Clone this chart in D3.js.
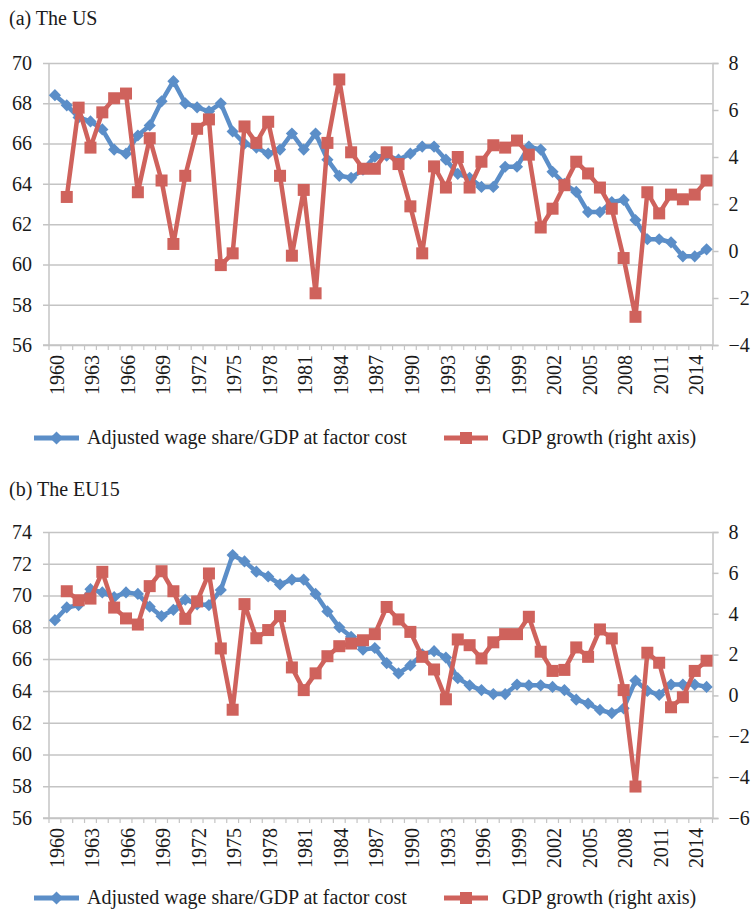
<!DOCTYPE html>
<html>
<head>
<meta charset="utf-8">
<script src="https://cdn.jsdelivr.net/npm/d3@7"></script>
<style>
  body { margin: 0; background: #fff; }
</style>
</head>
<body>
<div id="chart"></div>
<script>
//set the width and height of the svg
var width = 752;
var height = 914;

//font used everywhere
var FONT = "'Liberation Serif', 'DejaVu Serif', 'Times New Roman', serif";

//categories: one per year
var years = d3.range(1960, 2016);

//(a) US series
var usWage = [68.4, 67.9, 67.3, 67.1, 66.7, 65.7, 65.5, 66.4, 66.9, 68.1,
              69.1, 68.0, 67.8, 67.6, 68.0, 66.6, 66.0, 65.8, 65.5, 65.7,
              66.5, 65.7, 66.5, 65.2, 64.4, 64.3, 64.7, 65.35, 65.4, 65.2,
              65.5, 65.85, 65.85, 65.2, 64.5, 64.3, 63.85, 63.85, 64.85, 64.85,
              65.85, 65.7, 64.6, 64.0, 63.6, 62.6, 62.6, 63.1, 63.2, 62.2,
              61.25, 61.25, 61.1, 60.4, 60.4, 60.75];
var usGrowth = [null, 2.3, 6.1, 4.4, 5.9, 6.5, 6.7, 2.5, 4.8, 3.0,
                0.3, 3.2, 5.2, 5.6, -0.6, -0.1, 5.3, 4.6, 5.5, 3.2,
                -0.2, 2.6, -1.8, 4.6, 7.3, 4.2, 3.5, 3.5, 4.2, 3.7,
                1.9, -0.1, 3.6, 2.7, 4.0, 2.7, 3.8, 4.5, 4.4, 4.7,
                4.1, 1.0, 1.8, 2.8, 3.8, 3.3, 2.7, 1.8, -0.3, -2.8,
                2.5, 1.6, 2.4, 2.2, 2.4, 3.0];

//(b) EU15 series
var euWage = [68.45, 69.25, 69.4, 70.4, 70.2, 69.9, 70.2, 70.1, 69.3, 68.7,
              69.1, 69.75, 69.45, 69.4, 70.35, 72.55, 72.15, 71.5, 71.2, 70.7,
              71.0, 71.0, 70.1, 69.0, 68.0, 67.4, 66.6, 66.7, 65.75, 65.1,
              65.6, 66.3, 66.5, 66.1, 64.8, 64.35, 64.05, 63.8, 63.8, 64.4,
              64.35, 64.35, 64.25, 64.05, 63.45, 63.2, 62.8, 62.6, 62.9, 64.65,
              64.0, 63.75, 64.4, 64.4, 64.4, 64.25];
var euGrowth = [null, 5.1, 4.66, 4.74, 6.05, 4.3, 3.77, 3.47, 5.35, 6.08,
                5.1, 3.75, 4.6, 5.97, 2.3, -0.7, 4.47, 2.8, 3.2, 3.88,
                1.37, 0.26, 1.08, 1.92, 2.41, 2.54, 2.7, 3.0, 4.33, 3.72,
                3.11, 1.89, 1.27, -0.19, 2.74, 2.46, 1.81, 2.6, 3.0, 3.0,
                3.85, 2.14, 1.2, 1.25, 2.35, 1.89, 3.23, 2.79, 0.26, -4.46,
                2.09, 1.6, -0.58, -0.09, 1.2, 1.7];

//axis ticks
var usLeftTicks = [56, 58, 60, 62, 64, 66, 68, 70];
var usRightTicks = [-4, -2, 0, 2, 4, 6, 8];
var euLeftTicks = [56, 58, 60, 62, 64, 66, 68, 70, 72, 74];
var euRightTicks = [-6, -4, -2, 0, 2, 4, 6, 8];

//legend labels
var legendLabels = ["Adjusted wage share/GDP at factor cost", "GDP growth (right axis)"];

var BLUE = "#5b8ec8";
var RED = "#cf625c";
var GRID = "#c4c4c4";
var INK = "#1a1a1a";

var svg = d3.select("#chart")
            .append("svg")
            .attr("width", width)
            .attr("height", height)
            .style("font-family", FONT);

//x scale shared by both panels (category axis)
var xScale = d3.scaleBand()
               .domain(years)
               .range([49, 712.5])
               .padding(0);

function xMid(year) { return xScale(year) + xScale.bandwidth() / 2; }

//apply the serif font to a text selection
function serif(sel) {
  sel.attr("font-family", null)
     .style("font-family", FONT)
     .style("font-size", "20px")
     .attr("fill", INK);
}

function drawPanel(opts)
{
  var g = svg.append("g");

  //title
  g.append("text")
   .text(opts.title)
   .attr("x", 9)
   .attr("y", opts.titleY)
   .call(serif);

  var yLeft = d3.scaleLinear()
                .domain([opts.leftTicks[0], opts.leftTicks[opts.leftTicks.length - 1]])
                .range([opts.bottom, opts.top]);
  var yRight = d3.scaleLinear()
                 .domain([opts.rightTicks[0], opts.rightTicks[opts.rightTicks.length - 1]])
                 .range([opts.bottom, opts.top]);

  //horizontal gridlines + left axis (outer ticks)
  g.append("g")
   .attr("transform", "translate(49, 0)")
   .call(d3.axisLeft(yLeft)
           .tickValues(opts.leftTicks)
           .tickSizeInner(-(712.5 - 49))
           .tickSizeOuter(0)
           .tickPadding(17)
           .tickFormat(d3.format("d")))
   .call(function(ax) {
     ax.attr("font-family", null);
     ax.select(".domain").remove();
     ax.selectAll("line").attr("stroke", GRID).attr("stroke-width", 1.5)
       .attr("x1", -6);
     ax.selectAll("text").call(serif);
   });

  //left axis line
  g.append("line")
   .attr("x1", 49).attr("x2", 49)
   .attr("y1", opts.top).attr("y2", opts.bottom)
   .attr("stroke", GRID).attr("stroke-width", 1.5);

  //right axis
  g.append("g")
   .attr("transform", "translate(712.5, 0)")
   .call(d3.axisRight(yRight)
           .tickValues(opts.rightTicks)
           .tickSize(6)
           .tickPadding(10)
           .tickFormat(function(d) { return d < 0 ? "\u2212" + Math.abs(d) : d; }))
   .call(function(ax) {
     ax.attr("font-family", null);
     ax.selectAll("path, line").attr("stroke", GRID).attr("stroke-width", 1.5);
     ax.selectAll("text").call(serif);
   });

  //bottom axis line with ticks between categories
  g.append("line")
   .attr("x1", 43).attr("x2", 712.5)
   .attr("y1", opts.bottom).attr("y2", opts.bottom)
   .attr("stroke", GRID).attr("stroke-width", 1.5);
  g.selectAll(".xtick")
   .data(years.concat([years[years.length - 1] + 1]))
   .enter()
   .append("line")
   .attr("x1", function(d, i) { return i < years.length ? xScale(d) : xScale(years[i - 1]) + xScale.bandwidth(); })
   .attr("x2", function(d, i) { return i < years.length ? xScale(d) : xScale(years[i - 1]) + xScale.bandwidth(); })
   .attr("y1", opts.bottom)
   .attr("y2", opts.bottom + 5)
   .attr("stroke", GRID).attr("stroke-width", 1.2);

  //year labels every 3 years, rotated
  g.selectAll(".xlabel")
   .data(years.filter(function(d) { return (d - 1960) % 3 === 0; }))
   .enter()
   .append("text")
   .text(function(d) { return d; })
   .attr("transform", function(d) {
     return "translate(" + (xMid(d) + 2) + "," + (opts.bottom + 10) + ") rotate(-90)";
   })
   .attr("text-anchor", "end")
   .attr("dy", "0.33em")
   .call(serif);

  //wage share line (left axis)
  var wageLine = d3.line()
                   .x(function(d, i) { return xMid(years[i]); })
                   .y(function(d) { return yLeft(d); });
  g.append("path")
   .attr("d", wageLine(opts.wage))
   .attr("fill", "none")
   .attr("stroke", BLUE)
   .attr("stroke-width", 4.5)
   .attr("stroke-linejoin", "round");
  g.selectAll(".diamond")
   .data(opts.wage)
   .enter()
   .append("path")
   .attr("d", d3.symbol().type(d3.symbolDiamond2).size(95))
   .attr("transform", function(d, i) { return "translate(" + xMid(years[i]) + "," + yLeft(d) + ")"; })
   .attr("fill", BLUE);

  //GDP growth line (right axis)
  var growthLine = d3.line()
                     .defined(function(d) { return d !== null; })
                     .x(function(d, i) { return xMid(years[i]); })
                     .y(function(d) { return yRight(d); });
  g.append("path")
   .attr("d", growthLine(opts.growth))
   .attr("fill", "none")
   .attr("stroke", RED)
   .attr("stroke-width", 4.5)
   .attr("stroke-linejoin", "round");
  g.selectAll(".square")
   .data(opts.growth.map(function(d, i) { return {v: d, year: years[i]}; })
                    .filter(function(d) { return d.v !== null; }))
   .enter()
   .append("rect")
   .attr("x", function(d) { return xMid(d.year) - 6; })
   .attr("y", function(d) { return yRight(d.v) - 6; })
   .attr("width", 12)
   .attr("height", 12)
   .attr("fill", RED);

  //legend
  var ly = opts.legendY;
  var leg = g.append("g");
  leg.append("line")
     .attr("x1", 34).attr("x2", 79).attr("y1", ly).attr("y2", ly)
     .attr("stroke", BLUE).attr("stroke-width", 5);
  leg.append("path")
     .attr("d", d3.symbol().type(d3.symbolDiamond2).size(110))
     .attr("transform", "translate(56.5," + ly + ")")
     .attr("fill", BLUE);
  leg.append("text")
     .text(legendLabels[0])
     .attr("x", 87).attr("y", ly).attr("dy", "0.32em")
     .call(serif);
  leg.append("line")
     .attr("x1", 444).attr("x2", 488).attr("y1", ly).attr("y2", ly)
     .attr("stroke", RED).attr("stroke-width", 5);
  leg.append("rect")
     .attr("x", 460).attr("y", ly - 6).attr("width", 12).attr("height", 12)
     .attr("fill", RED);
  leg.append("text")
     .text(legendLabels[1])
     .attr("x", 502).attr("y", ly).attr("dy", "0.32em")
     .call(serif);
}

drawPanel({title: "(a) The US", titleY: 25, top: 63, bottom: 345,
           leftTicks: usLeftTicks, rightTicks: usRightTicks,
           wage: usWage, growth: usGrowth, legendY: 438});

drawPanel({title: "(b) The EU15", titleY: 496, top: 532, bottom: 818,
           leftTicks: euLeftTicks, rightTicks: euRightTicks,
           wage: euWage, growth: euGrowth, legendY: 898});
</script>
</body>
</html>
